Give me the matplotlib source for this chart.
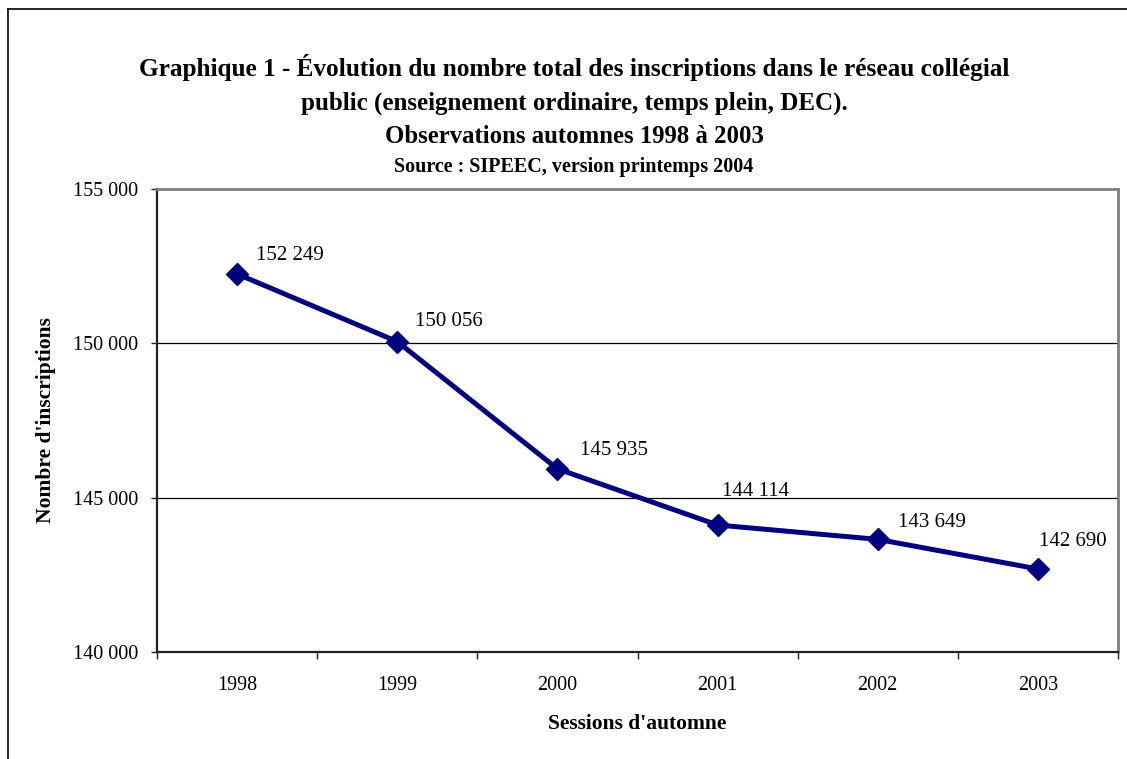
import matplotlib
matplotlib.use('Agg')
import matplotlib.pyplot as plt
from matplotlib.lines import Line2D

# data
years = ['1998', '1999', '2000', '2001', '2002', '2003']
inscriptions = [152249, 150056, 145935, 144114, 143649, 142690]
y_ticks = [140000, 145000, 150000, 155000]
# label offsets in pixels (dx, dy) from each point, as placed in the original
label_offsets = [(53, 14), (52, 16), (57, 14), (38, 29), (54, 12), (35, 23)]

def fmt(v):
    return '{:,}'.format(v).replace(',', ' ')

W, H = 1127, 759
plt.rcParams['font.family'] = ['Liberation Serif', 'DejaVu Serif']
fig = plt.figure(figsize=(W / 100, H / 100), dpi=100)

# outer frame (left and top visible)
fig.add_artist(Line2D([8 / W, 8 / W], [0, 1 - 9 / H], color='black', lw=1.2))
fig.add_artist(Line2D([8 / W, 1], [1 - 9 / H, 1 - 9 / H], color='black', lw=1.2))

ax = fig.add_axes([157 / W, (H - 652) / H, 961 / W, 463 / H])
x = list(range(len(years)))
ax.plot(x, inscriptions, color='#000080', lw=3.6, marker='D', ms=11, zorder=3)

ax.set_xlim(-0.5, len(years) - 0.5)
ax.set_ylim(y_ticks[0], y_ticks[-1])
ax.set_yticks(y_ticks)
ax.set_yticklabels([fmt(v) for v in y_ticks], fontsize=14.5)
ax.set_xticks([i - 0.5 for i in range(len(years) + 1)])
ax.set_xticklabels([])
ax.set_xticks(x, minor=True)
ax.set_xticklabels(years, minor=True, fontsize=14.5)
ax.tick_params(axis='x', which='major', length=5, width=1, direction='out', color='#222222')
ax.tick_params(axis='x', which='minor', length=0, pad=17)
ax.tick_params(axis='y', length=4.5, width=1, direction='out', pad=9, color='#222222')

for v in y_ticks[1:-1]:
    ax.axhline(v, color='black', lw=0.9, zorder=1)

for sp in ['top', 'right']:
    ax.spines[sp].set_color('#808080')
    ax.spines[sp].set_linewidth(2)
for sp in ['left', 'bottom']:
    ax.spines[sp].set_color('#222222')
    ax.spines[sp].set_linewidth(1.6)

for xi, v, (dx, dy) in zip(x, inscriptions, label_offsets):
    ax.annotate(fmt(v), (xi, v), xytext=(dx, dy), textcoords='offset pixels',
                ha='center', va='baseline', fontsize=15)

ax.set_xlabel("Sessions d'automne", fontsize=15.5, fontweight='bold', labelpad=14)
ax.set_ylabel("Nombre d'inscriptions", fontsize=15.5, fontweight='bold', labelpad=12)

title_lines = [
    ('Graphique 1 - Évolution du nombre total des inscriptions dans le réseau collégial', 76, 18.2),
    ('public (enseignement ordinaire, temps plein, DEC).', 110, 18),
    ('Observations automnes 1998 à 2003', 143, 17.8),
    ('Source : SIPEEC, version printemps 2004', 172, 14.5),
]
for txt, ypix, fs in title_lines:
    fig.text(574 / W, 1 - ypix / H, txt, ha='center', va='baseline',
             fontsize=fs, fontweight='bold')

fig.savefig('out.png', dpi=100)
